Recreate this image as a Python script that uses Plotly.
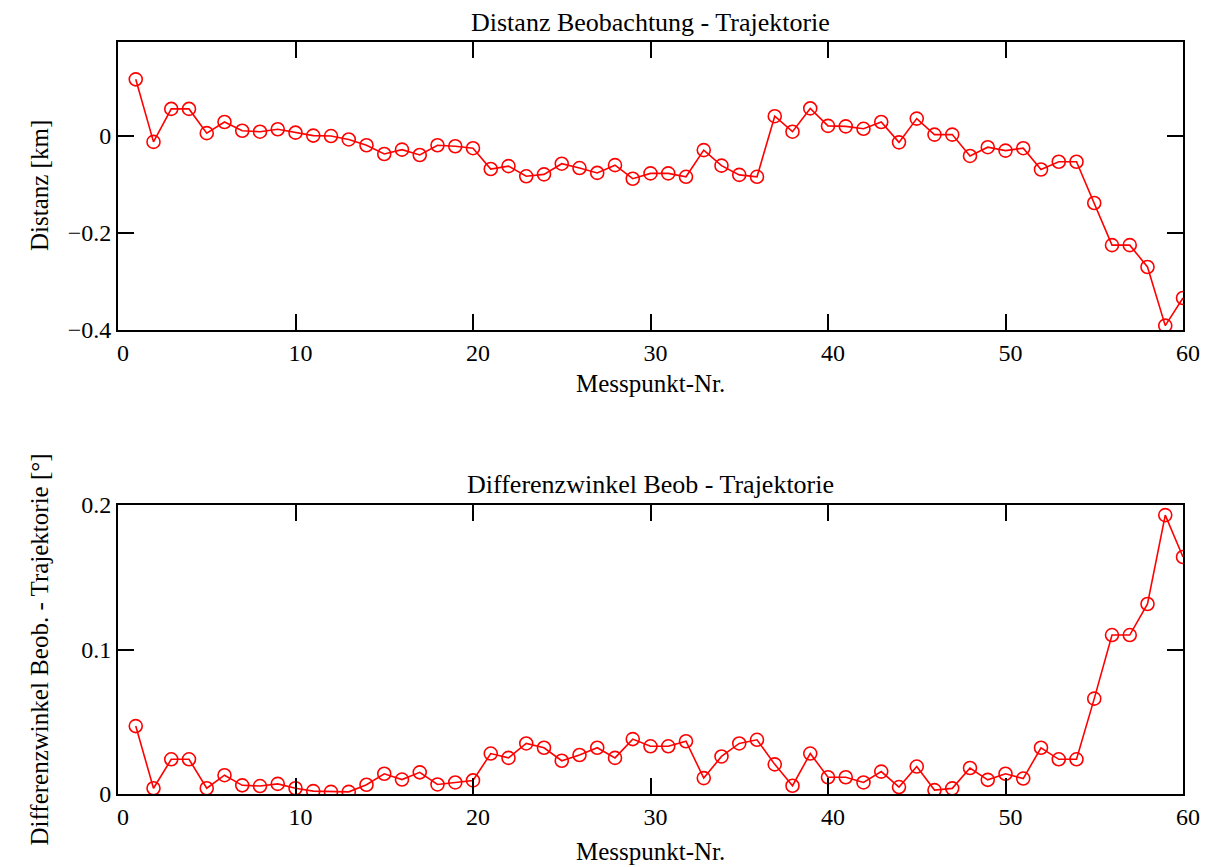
import plotly.graph_objects as go

messpunkt = list(range(1, 61))

distanz_km = [
    0.117, -0.012, 0.056, 0.056, 0.006, 0.029, 0.011, 0.009, 0.014, 0.007,
    0.001, 0.000, -0.007, -0.019, -0.037, -0.028, -0.039, -0.019, -0.021, -0.025,
    -0.068, -0.062, -0.083, -0.079, -0.057, -0.066, -0.076, -0.060, -0.088, -0.077,
    -0.077, -0.084, -0.029, -0.061, -0.080, -0.084, 0.041, 0.009, 0.057, 0.021,
    0.020, 0.015, 0.029, -0.013, 0.036, 0.003, 0.003, -0.041, -0.023, -0.030,
    -0.025, -0.069, -0.053, -0.053, -0.138, -0.225, -0.225, -0.270, -0.391, -0.334,
]

differenzwinkel = [
    0.047, 0.004, 0.024, 0.024, 0.004, 0.013, 0.006, 0.0055, 0.007, 0.004,
    0.002, 0.0015, 0.0015, 0.0064, 0.014, 0.010, 0.015, 0.0066, 0.008, 0.0094,
    0.028, 0.025, 0.035, 0.032, 0.023, 0.027, 0.032, 0.025, 0.038, 0.033,
    0.033, 0.0365, 0.011, 0.026, 0.035, 0.0375, 0.0205, 0.0057, 0.028, 0.0116,
    0.0116, 0.008, 0.0155, 0.0048, 0.019, 0.0027, 0.0039, 0.018, 0.0098, 0.014,
    0.0107, 0.032, 0.024, 0.024, 0.066, 0.110, 0.110, 0.1315, 0.193, 0.164,
]

x_ticks = [0, 10, 20, 30, 40, 50, 60]
y1_ticks = [0, -0.2, -0.4]
y2_ticks = [0, 0.1, 0.2]

FONT = "Liberation Serif, Times New Roman, serif"
RED = "#ff0000"
PAGE_W, PAGE_H = 1224, 867
OFF = 8  # default body margin of the html page
W, H = PAGE_W - OFF, PAGE_H - OFF


def px(x):
    return (x - OFF) / W


def py(y):
    return 1 - (y - OFF) / H


xd = [px(118), px(1183)]
y1d = [py(330), py(42)]
y2d = [py(794), py(505)]

fig = go.Figure()
trace_style = dict(
    mode="lines+markers",
    line=dict(color=RED, width=1.6),
    marker=dict(symbol="circle-open", size=13, color=RED, line=dict(width=1.6, color=RED)),
    showlegend=False,
    cliponaxis=True,
)
fig.add_trace(go.Scatter(x=messpunkt, y=distanz_km, xaxis="x", yaxis="y", **trace_style))
fig.add_trace(go.Scatter(x=messpunkt, y=differenzwinkel, xaxis="x2", yaxis="y2", **trace_style))

axis_common = dict(
    showgrid=False, zeroline=False, showline=True, linecolor="black", linewidth=2,
    mirror="allticks", ticks="inside", ticklen=16, tickwidth=2, tickcolor="black",
    tickfont=dict(family=FONT, size=24, color="black"), automargin=False,
)

fig.update_layout(
    width=W, height=H,
    margin=dict(l=0, r=0, t=0, b=0, autoexpand=False),
    paper_bgcolor="white", plot_bgcolor="white",
    font=dict(family=FONT, size=24, color="black"),
    xaxis=dict(domain=xd, anchor="y", range=[0, 60], tickvals=x_ticks, ticklabelshift=5, **axis_common),
    yaxis=dict(domain=y1d, anchor="x", range=[-0.4, 0.194], tickvals=y1_ticks,
               ticktext=["0", "\u22120.2", "\u22120.4"], **axis_common),
    xaxis2=dict(domain=xd, anchor="y2", range=[0, 60], tickvals=x_ticks, ticklabelshift=5, **axis_common),
    yaxis2=dict(domain=y2d, anchor="x2", range=[0, 0.2], tickvals=y2_ticks,
                ticktext=["0", "0.1", "0.2"], **axis_common),
)

cx = (xd[0] + xd[1]) / 2
ann = [
    dict(text="Distanz Beobachtung - Trajektorie", x=cx, y=py(23), size=26),
    dict(text="Messpunkt-Nr.", x=cx, y=py(383), size=25),
    dict(text="Differenzwinkel Beob - Trajektorie", x=cx, y=py(485), size=26),
    dict(text="Messpunkt-Nr.", x=cx, y=py(851), size=25),
    dict(text="Distanz [km]", x=px(39), y=(y1d[0] + y1d[1]) / 2, textangle=-90, size=25),
    dict(text="Differenzwinkel Beob. - Trajektorie [°]", x=px(39), y=(y2d[0] + y2d[1]) / 2, textangle=-90, size=25),
]
for a in ann:
    sz = a.pop("size")
    fig.add_annotation(xref="paper", yref="paper", xanchor="center", yanchor="middle",
                       showarrow=False, borderpad=0,
                       font=dict(family=FONT, size=sz, color="black"), **a)

fig.write_html("out.html")
